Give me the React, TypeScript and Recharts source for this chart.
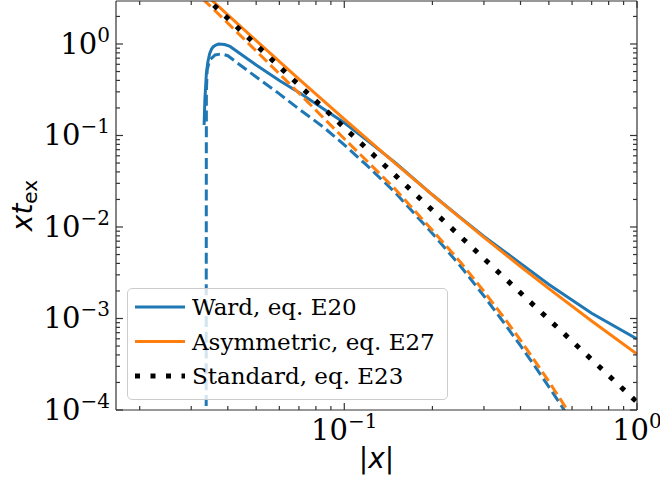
import React from 'react';
import { LineChart, Line, XAxis, YAxis, Legend } from 'recharts';

type Pt = [number, number];

// Ward, eq. E20 (solid) and its dashed companion
const wardSolid: Pt[] = [
  [0.0332, 0.13], [0.0334, 0.245], [0.0338, 0.48], [0.0342, 0.64], [0.0347, 0.79],
  [0.0352, 0.88], [0.0357, 0.935], [0.0364, 0.975], [0.0372, 1.0], [0.039, 0.985],
  [0.0407, 0.94], [0.045, 0.75], [0.05, 0.59], [0.06, 0.4], [0.0707, 0.289],
  [0.085, 0.195], [0.1, 0.138], [0.12, 0.088], [0.15, 0.05], [0.2, 0.0225],
  [0.25, 0.0126], [0.3, 0.0079], [0.4, 0.004], [0.5, 0.00235], [0.7, 0.00114],
  [1.0, 0.000597],
];
const wardDashed: Pt[] = [
  [0.03374, 0.00005], [0.03378, 0.05], [0.0338, 0.3], [0.034, 0.52], [0.0347, 0.67],
  [0.0362, 0.76], [0.0381, 0.78], [0.04, 0.745], [0.045, 0.56], [0.0503, 0.43],
  [0.06, 0.285], [0.0707, 0.19], [0.085, 0.123], [0.1, 0.079], [0.12, 0.0465],
  [0.15, 0.0234], [0.2, 0.0085], [0.25, 0.0037], [0.3, 0.00176], [0.35, 0.00091],
  [0.4, 0.000505], [0.45, 0.000294], [0.5, 0.000179], [0.55, 0.000113], [0.6, 0.000073],
];
// Asymmetric, eq. E27 (solid) and its dashed companion
const asymSolid: Pt[] = [
  [0.03, 4.84], [0.035, 3.08], [0.04, 2.085], [0.05, 1.09], [0.07, 0.414],
  [0.1, 0.151], [0.15, 0.049], [0.2, 0.0224], [0.3, 0.0077], [0.4, 0.0037],
  [0.5, 0.00212], [0.7, 0.00094], [1.0, 0.000409],
];
const asymDashed: Pt[] = [
  [0.03, 4.1], [0.034, 2.8], [0.04, 1.69], [0.05, 0.84], [0.07, 0.29],
  [0.1, 0.092], [0.12, 0.052], [0.15, 0.0255], [0.2, 0.0092], [0.25, 0.0041],
  [0.3, 0.00198], [0.35, 0.00104], [0.4, 0.00058], [0.45, 0.000335], [0.5, 0.000205],
  [0.55, 0.000128], [0.6, 0.000083],
];
// Standard, eq. E23 (dotted)
const standardDotted: Pt[] = [
  [0.03, 4.52], [0.035, 2.85], [0.04, 1.906], [0.05, 0.976], [0.07, 0.356],
  [0.1, 0.122], [0.15, 0.0362], [0.2, 0.01525], [0.3, 0.00452], [0.5, 0.000976],
  [0.7, 0.000356], [1.0, 0.000122],
];

const xDomain = [0.0166, 1.0];
const yDomain = [1e-4, 2.95];
const xMajorTicks = [0.1, 1];
const xTickExponents = ['\u22121', '0'];
const xMinorTicks = [0.02, 0.03, 0.04, 0.05, 0.06, 0.07, 0.08, 0.09, 0.2, 0.3, 0.4, 0.5, 0.6, 0.7, 0.8, 0.9];
const yMajorTicks = [1e-4, 1e-3, 1e-2, 1e-1, 1];
const yTickExponents = ['\u22124', '\u22123', '\u22122', '\u22121', '0'];
const yMinorTicks = [
  2e-4, 3e-4, 4e-4, 5e-4, 6e-4, 7e-4, 8e-4, 9e-4,
  2e-3, 3e-3, 4e-3, 5e-3, 6e-3, 7e-3, 8e-3, 9e-3,
  2e-2, 3e-2, 4e-2, 5e-2, 6e-2, 7e-2, 8e-2, 9e-2,
  0.2, 0.3, 0.4, 0.5, 0.6, 0.7, 0.8, 0.9, 2,
];
const legendLabels = ['Ward, eq. E20', 'Asymmetric, eq. E27', 'Standard, eq. E23'];
const xLabel = 'x';
const yLabelMain = 'xt';
const yLabelSub = 'ex';

const BLUE = '#1f77b4';
const ORANGE = '#ff7f0e';
const BLACK = '#000000';
const AX = '#333333';
const SERIF = '"DejaVu Serif", serif';
const SANS = '"DejaVu Sans", sans-serif';
const MAJOR_LEN = 7;
const MINOR_LEN = 4;
const DASH = '11 4.8';
const DOT = '5 10.5';

const toData = (pts: Pt[]) => pts.map(([x, y]) => ({ x, y }));
const near = (a: number, b: number) => Math.abs(a - b) <= Math.abs(b) * 1e-9;
const majorIndex = (list: number[], v: number) => list.findIndex((m) => near(v, m));
const xTicks = [...xMinorTicks, ...xMajorTicks].sort((a, b) => a - b);
const yTicks = [...yMinorTicks, ...yMajorTicks].sort((a, b) => a - b);

const BottomTick = (props: any) => {
  const { x, y, payload } = props;
  const i = majorIndex(xMajorTicks, payload.value);
  return (
    <g>
      <line x1={x} x2={x} y1={y} y2={y - (i >= 0 ? MAJOR_LEN : MINOR_LEN)} stroke={AX} strokeWidth={1.2} />
      {i >= 0 && (
        <text x={x} y={y + 30} textAnchor="middle" fontFamily={SERIF} fontSize={29} fill="#000">
          10<tspan dy={-12} fontSize={20}>{xTickExponents[i]}</tspan>
        </text>
      )}
    </g>
  );
};
const TopTick = (props: any) => {
  const { x, y, payload } = props;
  const i = majorIndex(xMajorTicks, payload.value);
  return <line x1={x} x2={x} y1={y} y2={y + (i >= 0 ? MAJOR_LEN : MINOR_LEN)} stroke={AX} strokeWidth={1.2} />;
};
const LeftTick = (props: any) => {
  const { x, y, payload } = props;
  const i = majorIndex(yMajorTicks, payload.value);
  return (
    <g>
      <line x1={x} x2={x + (i >= 0 ? MAJOR_LEN : MINOR_LEN)} y1={y} y2={y} stroke={AX} strokeWidth={1.2} />
      {i >= 0 && (
        <text x={x - 6} y={y + 10} textAnchor="end" fontFamily={SERIF} fontSize={29} fill="#000">
          10<tspan dy={-12} fontSize={20}>{yTickExponents[i]}</tspan>
        </text>
      )}
    </g>
  );
};
const RightTick = (props: any) => {
  const { x, y, payload } = props;
  const i = majorIndex(yMajorTicks, payload.value);
  return <line x1={x} x2={x - (i >= 0 ? MAJOR_LEN : MINOR_LEN)} y1={y} y2={y} stroke={AX} strokeWidth={1.2} />;
};

const XLabelContent = (props: any) => {
  const vb = props.viewBox || { x: 116, y: 410, width: 521, height: 73 };
  return (
    <text x={vb.x + vb.width / 2} y={vb.y + 58} textAnchor="middle" fontFamily={SANS} fontSize={28} fill="#000">
      |<tspan fontStyle="italic">{xLabel}</tspan>|
    </text>
  );
};
const YLabelContent = (props: any) => {
  const vb = props.viewBox || { x: 0, y: 1, width: 116, height: 409 };
  const cy = vb.y + vb.height / 2;
  return (
    <text transform={`translate(32, ${cy}) rotate(-90)`} x={0} y={0} textAnchor="middle" fontFamily={SANS} fontSize={28} fill="#000">
      <tspan fontStyle="italic">{yLabelMain}</tspan>
      <tspan fontSize={20} dy={4.5}>{yLabelSub}</tspan>
    </text>
  );
};

const legendStyles = [
  { color: BLUE, width: 3, dash: undefined as string | undefined },
  { color: ORANGE, width: 3, dash: undefined as string | undefined },
  { color: BLACK, width: 5, dash: DOT },
];

const renderLegend = () => (
  <div
    style={{
      position: 'relative', width: 321, height: 112, boxSizing: 'border-box',
      border: '1px solid #cccccc', borderRadius: 5, background: 'rgba(255,255,255,0.8)',
    }}
  >
    <svg width={321} height={112} style={{ position: 'absolute', left: -1, top: -1, display: 'block' }}>
      {legendLabels.map((lab, i) => {
        const cy = 19 + i * 34.5;
        const st = legendStyles[i];
        return (
          <g key={lab}>
            <line x1={8} x2={58} y1={cy} y2={cy} stroke={st.color} strokeWidth={st.width} strokeDasharray={st.dash} />
            <text x={65} y={cy + 8.4} fontFamily={SERIF} fontSize={23} fill="#000">{lab}</text>
          </g>
        );
      })}
    </svg>
  </div>
);

export default function App() {
  return (
    <div style={{ position: 'absolute', left: 0, top: 0, width: 660, height: 483, background: '#fff' }}>
      <LineChart width={660} height={483} margin={{ top: 0, right: 0, bottom: 0, left: 0 }}>
        <XAxis
          xAxisId="b" orientation="bottom" dataKey="x" type="number" scale="log" domain={xDomain}
          allowDataOverflow ticks={xTicks} interval={0} tick={BottomTick} tickLine={false}
          tickSize={0} tickMargin={0} height={73} axisLine={{ stroke: AX, strokeWidth: 1.2 }}
          label={{ content: XLabelContent }}
        />
        <XAxis
          xAxisId="t" orientation="top" dataKey="x" type="number" scale="log" domain={xDomain}
          allowDataOverflow ticks={xTicks} interval={0} tick={TopTick} tickLine={false}
          tickSize={0} tickMargin={0} height={1} axisLine={{ stroke: AX, strokeWidth: 1.2 }}
        />
        <YAxis
          yAxisId="l" orientation="left" type="number" scale="log" domain={yDomain}
          allowDataOverflow ticks={yTicks} interval={0} tick={LeftTick} tickLine={false}
          tickSize={0} tickMargin={0} width={116} axisLine={{ stroke: AX, strokeWidth: 1.2 }}
          label={{ content: YLabelContent }}
        />
        <YAxis
          yAxisId="r" orientation="right" type="number" scale="log" domain={yDomain}
          allowDataOverflow ticks={yTicks} interval={0} tick={RightTick} tickLine={false}
          tickSize={0} tickMargin={0} width={23} axisLine={{ stroke: AX, strokeWidth: 1.2 }}
        />
        <Line xAxisId="b" yAxisId="l" data={toData(wardSolid)} dataKey="y" type="linear" stroke={BLUE}
          strokeWidth={3} dot={false} activeDot={false} isAnimationActive={false} legendType="none" />
        <Line xAxisId="b" yAxisId="l" data={toData(wardDashed)} dataKey="y" type="linear" stroke={BLUE}
          strokeWidth={3} strokeDasharray={DASH} dot={false} activeDot={false} isAnimationActive={false} legendType="none" />
        <Line xAxisId="b" yAxisId="l" data={toData(asymSolid)} dataKey="y" type="linear" stroke={ORANGE}
          strokeWidth={3} dot={false} activeDot={false} isAnimationActive={false} legendType="none" />
        <Line xAxisId="b" yAxisId="l" data={toData(asymDashed)} dataKey="y" type="linear" stroke={ORANGE}
          strokeWidth={3} strokeDasharray={DASH} dot={false} activeDot={false} isAnimationActive={false} legendType="none" />
        <Line xAxisId="b" yAxisId="l" data={toData(standardDotted)} dataKey="y" type="linear" stroke={BLACK}
          strokeWidth={5} strokeDasharray={DOT} dot={false} activeDot={false} isAnimationActive={false} legendType="none" />
        <Legend
          layout="vertical" align="center" verticalAlign="middle" content={renderLegend}
          wrapperStyle={{ left: 127, top: 288, width: 321, height: 112, lineHeight: 0 }}
        />
      </LineChart>
    </div>
  );
}
